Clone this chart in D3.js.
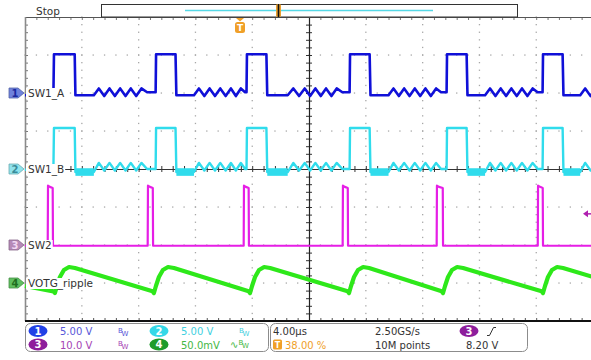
<!DOCTYPE html>
<html>
<head>
<meta charset="utf-8">
<script src="https://cdn.jsdelivr.net/npm/d3@7"></script>
<style>
  body { margin: 0; background: #fff; }
  svg { display: block; font-family: 'DejaVu Sans', sans-serif; }
  .tk .domain { display: none; }
</style>
</head>
<body>
<div id="scope"></div>
<script>
// time in µs, levels in V (ch4 in mV)
const timeSpan = [0, 40];          // 10 div x 4.00 µs
const divRange = [4, -4];          // 8 vertical divisions

const sw1a = [
  [0, -0.3], [2.0, -0.3], [2.04, 5.1], [3.5, 5.1], [3.55, -0.3],
  [4.85, -0.3], [5.2, 0.6], [5.58, -0.4], [5.95, 0.6], [6.33, -0.4], [6.7, 0.6], [7.08, -0.4], [7.45, 0.6], [7.83, -0.4], [8.2, 0.6], [8.6, 0.1], [9.2, 0.1],
  [9.23, 5.1], [10.6, 5.1], [10.66, -0.3],
  [11.9, -0.3], [12.25, 0.6], [12.63, -0.4], [13.0, 0.6], [13.38, -0.4], [13.75, 0.6], [14.13, -0.4], [14.5, 0.6], [14.85, -0.4], [15.2, 0.6], [15.5, 0.1], [15.6, 0.1],
  [15.63, 5.1], [17.0, 5.1], [17.06, -0.3],
  [18.5, -0.3], [18.9, 0.6], [19.3, -0.4], [19.7, 0.6], [20.08, -0.4], [20.45, 0.6], [20.83, -0.4], [21.2, 0.6], [21.58, -0.4], [21.95, 0.6], [22.35, 0.1], [22.86, 0.1],
  [22.89, 5.1], [24.27, 5.1], [24.33, -0.3],
  [25.6, -0.3], [25.95, 0.6], [26.33, -0.4], [26.7, 0.6], [27.08, -0.4], [27.45, 0.6], [27.83, -0.4], [28.2, 0.6], [28.58, -0.4], [28.95, 0.6], [29.3, 0.1], [29.69, 0.1],
  [29.72, 5.1], [31.1, 5.1], [31.16, -0.3],
  [32.4, -0.3], [32.75, 0.6], [33.13, -0.4], [33.5, 0.6], [33.88, -0.4], [34.25, 0.6], [34.63, -0.4], [35.0, 0.6], [35.38, -0.4], [35.75, 0.6], [36.1, 0.1], [36.45, 0.1],
  [36.48, 5.1], [37.86, 5.1], [37.92, -0.3],
  [39.1, -0.3], [39.45, 0.6], [39.83, -0.4], [40, 0.1]
];

const sw1b = [
  [0, -0.1], [2.0, -0.1], [2.04, 5.4], [3.5, 5.4], [3.55, -0.4],
  [4.85, -0.4], [5.2, 0.8], [5.58, -0.2], [5.95, 0.8], [6.33, -0.2], [6.7, 0.8], [7.08, -0.2], [7.45, 0.8], [7.83, -0.2], [8.2, 0.8], [8.6, 0.0], [9.2, 0.0],
  [9.23, 5.4], [10.6, 5.4], [10.66, -0.4],
  [11.9, -0.4], [12.25, 0.8], [12.63, -0.2], [13.0, 0.8], [13.38, -0.2], [13.75, 0.8], [14.13, -0.2], [14.5, 0.8], [14.85, -0.2], [15.2, 0.8], [15.5, 0.0], [15.6, 0.0],
  [15.63, 5.4], [17.0, 5.4], [17.06, -0.4],
  [18.5, -0.4], [18.9, 0.8], [19.3, -0.2], [19.7, 0.8], [20.08, -0.2], [20.45, 0.8], [20.83, -0.2], [21.2, 0.8], [21.58, -0.2], [21.95, 0.8], [22.35, 0.0], [22.86, 0.0],
  [22.89, 5.4], [24.27, 5.4], [24.33, -0.4],
  [25.6, -0.4], [25.95, 0.8], [26.33, -0.2], [26.7, 0.8], [27.08, -0.2], [27.45, 0.8], [27.83, -0.2], [28.2, 0.8], [28.58, -0.2], [28.95, 0.8], [29.3, 0.0], [29.69, 0.0],
  [29.72, 5.4], [31.1, 5.4], [31.16, -0.4],
  [32.4, -0.4], [32.75, 0.8], [33.13, -0.2], [33.5, 0.8], [33.88, -0.2], [34.25, 0.8], [34.63, -0.2], [35.0, 0.8], [35.38, -0.2], [35.75, 0.8], [36.1, 0.0], [36.45, 0.0],
  [36.48, 5.4], [37.86, 5.4], [37.92, -0.4],
  [39.1, -0.4], [39.45, 0.8], [39.83, -0.2], [40, 0.0]
];
// ringing band right after each SW1_B falling edge: [t0, t1, vmin, vmax]
const sw1bRinging = [
  [3.55, 4.85, -0.9, 0.1], [10.66, 11.9, -0.9, 0.1], [17.06, 18.5, -0.9, 0.1],
  [24.33, 25.6, -0.9, 0.1], [31.16, 32.4, -0.9, 0.1], [37.92, 39.1, -0.9, 0.1]
];

const sw2 = [
  [0, -0.2], [1.6, -0.2], [1.62, 15.6], [1.75, 15.3], [1.95, 15.0], [1.97, -0.2],
  [8.64, -0.2], [8.66, 15.6], [8.8, 15.3], [9.0, 15.0], [9.02, -0.2],
  [15.40, -0.2], [15.42, 15.6], [15.55, 15.3], [15.75, 15.0], [15.77, -0.2],
  [22.37, -0.2], [22.39, 15.6], [22.52, 15.3], [22.73, 15.0], [22.75, -0.2],
  [28.99, -0.2], [29.01, 15.6], [29.15, 15.3], [29.42, 15.0], [29.44, -0.2],
  [36.11, -0.2], [36.13, 15.6], [36.27, 15.3], [36.46, 15.0], [36.48, -0.2], [40, -0.2]
];

const votg = [
  [0, -4], [2.0, -11], [2.11, -13.2], [2.25, -3.9], [2.46, 7.9], [2.74, 17.1], [3.1, 21], [3.52, 19.7],
  [8.98, -11], [9.08, -13.2], [9.22, -3.9], [9.43, 7.9], [9.71, 17.1], [10.07, 21], [10.49, 19.7],
  [15.75, -11], [15.85, -13.2], [15.99, -3.9], [16.2, 7.9], [16.48, 17.1], [16.84, 21], [17.26, 19.7],
  [22.72, -11], [22.82, -13.2], [22.96, -3.9], [23.17, 7.9], [23.45, 17.1], [23.81, 21], [24.23, 19.7],
  [29.34, -11], [29.44, -13.2], [29.58, -3.9], [29.79, 7.9], [30.07, 17.1], [30.43, 21], [30.85, 19.7],
  [36.38, -11], [36.48, -13.2], [36.62, -3.9], [36.83, 7.9], [37.11, 17.1], [37.47, 21], [37.89, 19.7],
  [40, 8]
];

// channel setup: ground position (div), scale per div
const channels = [
  { id: 1, name: 'SW1_A', data: sw1a, pos: 2, perDiv: 5, color: '#1010d8', width: 2.6, mark: '#6f82dc', markText: '#1b2aa0' },
  { id: 2, name: 'SW1_B', data: sw1b, pos: 0, perDiv: 5, color: '#30dcec', width: 2.4, mark: '#8fe3ec', markText: '#3a8c9a' },
  { id: 3, name: 'SW2', data: sw2, pos: -2, perDiv: 10, color: '#e61ee6', width: 2.2, mark: '#b68ab8', markText: '#f2d8f2' },
  { id: 4, name: 'VOTG_ripple', data: votg, pos: -3, perDiv: 50, color: '#2ee81a', width: 4.2, mark: '#5fbf5f', markText: '#1e6e1e' }
];

const scaleRows = [
  [{ n: '1', fill: '#2141e6', val: '5.00 V', col: '#5757d8', bw: '' }, { n: '2', fill: '#34d8e8', val: '5.00 V', col: '#3fd0e0', bw: '' }],
  [{ n: '3', fill: '#8e1e9c', val: '10.0 V', col: '#a544b4', bw: '' }, { n: '4', fill: '#1f9c2c', val: '50.0mV', col: '#45b845', bw: '\u223F' }]
];
const timeInfo = ['4.00\u00B5s', '38.00 %'];
const acqInfo = ['2.50GS/s', '10M points'];
const trigLevel = '8.20 V';
const trigLevelV = 8.2;

const W = 591, H = 360;
const plot = { left: 25, top: 17, right: 593, bottom: 321 };

const svg = d3.select('#scope').append('svg')
  .attr('width', W)
  .attr('height', H);

svg.append('rect').attr('width', W).attr('height', H).attr('fill', '#fff');

const x = d3.scaleLinear().domain(timeSpan).range([plot.left, plot.right]);
const yDiv = d3.scaleLinear().domain(divRange).range([plot.top, plot.bottom]);

const majorT = d3.range(0, 41, 4);
const minorT = d3.range(0, 40.01, 0.8);
const majorD = d3.range(-4, 5, 1);
const minorD = d3.range(-4, 4.01, 0.2);

// graticule dots
const grid = svg.append('g').attr('fill', '#a8a8a8');
majorT.filter(t => t > 0 && t !== 20).forEach(t => {
  grid.selectAll(null).data(minorD).enter().append('rect')
    .attr('x', x(t) - 0.6).attr('y', d => yDiv(d) - 0.6)
    .attr('width', 1.3).attr('height', 1.3);
});
majorD.filter(d => d > -4 && d < 4 && d !== 0).forEach(d => {
  grid.selectAll(null).data(minorT).enter().append('rect')
    .attr('x', t => x(t) - 0.6).attr('y', yDiv(d) - 0.6)
    .attr('width', 1.3).attr('height', 1.3);
});

// borders with ticks
const tk = svg.append('g').attr('class', 'tk');
tk.append('g').attr('transform', `translate(0,${plot.top})`)
  .call(d3.axisBottom(x).tickValues(minorT).tickSize(3).tickFormat(''))
  .selectAll('line').attr('stroke', '#777');
tk.append('g').attr('transform', `translate(${plot.left},0)`)
  .call(d3.axisRight(yDiv).tickValues(minorD).tickSize(3).tickFormat(''))
  .selectAll('line').attr('stroke', '#777');
tk.append('g').attr('transform', `translate(0,${plot.bottom})`)
  .call(d3.axisTop(x).tickValues(minorT).tickSize(3).tickFormat(''))
  .selectAll('line').attr('stroke', '#555');

// centre cross
[d3.axisTop, d3.axisBottom].forEach(a => {
  tk.append('g').attr('transform', `translate(0,${yDiv(0)})`)
    .call(a(x).tickValues(minorT).tickSize(3).tickFormat(''))
    .selectAll('line').attr('stroke', '#333');
});
[d3.axisLeft, d3.axisRight].forEach(a => {
  tk.append('g').attr('transform', `translate(${x(20)},0)`)
    .call(a(yDiv).tickValues(minorD).tickSize(3).tickFormat(''))
    .selectAll('line').attr('stroke', '#333');
});

svg.append('line').attr('x1', plot.left).attr('x2', W).attr('y1', yDiv(0) + 0.5).attr('y2', yDiv(0) + 0.5)
  .attr('stroke', '#333').attr('stroke-width', 1);
svg.append('line').attr('x1', x(20) + 0.5).attr('x2', x(20) + 0.5).attr('y1', plot.top).attr('y2', plot.bottom)
  .attr('stroke', '#222').attr('stroke-width', 1.2);
svg.append('line').attr('x1', plot.left).attr('x2', W).attr('y1', plot.top + 0.5).attr('y2', plot.top + 0.5)
  .attr('stroke', '#555');
svg.append('line').attr('x1', plot.left + 0.5).attr('x2', plot.left + 0.5).attr('y1', plot.top).attr('y2', plot.bottom)
  .attr('stroke', '#8a8a8a').attr('stroke-width', 1.6);

// traces
const traces = svg.append('g');
channels.slice().reverse().forEach(ch => {
  const yv = v => yDiv(ch.pos + v / ch.perDiv);
  if (ch.id === 2) {
    traces.selectAll(null).data(sw1bRinging).enter().append('rect')
      .attr('x', d => x(d[0])).attr('width', d => x(d[1]) - x(d[0]))
      .attr('y', d => yv(d[3])).attr('height', d => yv(d[2]) - yv(d[3]))
      .attr('fill', ch.color);
  }
  traces.append('path')
    .datum(ch.data)
    .attr('fill', 'none')
    .attr('stroke', ch.color)
    .attr('stroke-width', ch.width)
    .attr('stroke-linejoin', 'round')
    .attr('d', d3.line().x(d => x(d[0])).y(d => yv(d[1])));
});

svg.append('line').attr('x1', plot.left).attr('x2', W).attr('y1', plot.bottom).attr('y2', plot.bottom)
  .attr('stroke', '#111').attr('stroke-width', 2);

// channel labels and ground markers
const labels = svg.append('g');
channels.forEach(ch => {
  const gy = yDiv(ch.pos);
  const bg = labels.append('rect').attr('fill', '#fff');
  const lbl = labels.append('text').attr('x', 28).attr('y', gy + 4)
    .attr('font-size', 10.5).attr('fill', '#333').text(ch.name);
  const bb = lbl.node().getBBox();
  bg.attr('x', 26).attr('y', bb.y + 1).attr('width', bb.width + 3).attr('height', bb.height - 2);
  labels.append('path')
    .attr('d', `M9,${gy - 5} h9 l6,5 l-6,5 h-9 z`)
    .attr('fill', ch.mark).attr('stroke', d3.color(ch.mark).darker(0.8)).attr('stroke-width', 0.8);
  labels.append('text').attr('x', 15).attr('y', gy + 4).attr('text-anchor', 'middle')
    .attr('font-size', 10).attr('font-weight', 'bold').attr('fill', ch.markText).text(ch.id);
});

// ch3 trigger level marker at the right
const ty = yDiv(channels[2].pos + trigLevelV / channels[2].perDiv);
svg.append('path').attr('d', `M583,${ty} l5,-3.5 v7 z`).attr('fill', '#b020b0');
svg.append('line').attr('x1', 586).attr('x2', 591).attr('y1', ty).attr('y2', ty).attr('stroke', '#b020b0').attr('stroke-width', 1.5);

// top status bar
svg.append('text').attr('x', 36).attr('y', 15).attr('font-size', 10.5).attr('fill', '#333').text('Stop');
svg.append('rect').attr('x', 101.5).attr('y', 4.5).attr('width', 416).attr('height', 12.5)
  .attr('fill', '#fff').attr('stroke', '#333');
svg.append('line').attr('x1', 185).attr('x2', 433).attr('y1', 10.5).attr('y2', 10.5)
  .attr('stroke', '#55d8e6').attr('stroke-width', 1.3);
svg.append('rect').attr('x', 276).attr('y', 4).attr('width', 5).attr('height', 13).attr('rx', 1.5).attr('fill', '#e8a030');
svg.append('line').attr('x1', 278.5).attr('x2', 278.5).attr('y1', 4).attr('y2', 17).attr('stroke', '#111').attr('stroke-width', 1.6);

// trigger position marker
const tx = 240;
svg.append('path').attr('d', `M${tx - 4},18 h8 l-4,3.5 z`).attr('fill', '#f0a028');
svg.append('rect').attr('x', tx - 5).attr('y', 22).attr('width', 10).attr('height', 11).attr('rx', 2.5).attr('fill', '#f0a028');
svg.append('text').attr('x', tx).attr('y', 31).attr('text-anchor', 'middle').attr('font-size', 9)
  .attr('font-weight', 'bold').attr('fill', '#fff').text('T');

// bottom info boxes
const info = svg.append('g').attr('font-size', 10);
info.append('rect').attr('x', 25.5).attr('y', 323.5).attr('width', 243).attr('height', 28).attr('rx', 5)
  .attr('fill', '#fff').attr('stroke', '#8c8c8c');
info.append('rect').attr('x', 270.5).attr('y', 323.5).attr('width', 257).attr('height', 28).attr('rx', 5)
  .attr('fill', '#fff').attr('stroke', '#8c8c8c');

scaleRows.forEach((row, ri) => {
  const by = 331 + ri * 13.5;
  row.forEach((c, ci) => {
    const bx = 38 + ci * 121;
    info.append('ellipse').attr('cx', bx).attr('cy', by).attr('rx', 9.5).attr('ry', 6).attr('fill', c.fill);
    info.append('text').attr('x', bx).attr('y', by + 3.8).attr('text-anchor', 'middle')
      .attr('fill', '#fff').attr('font-weight', 'bold').text(c.n);
    info.append('text').attr('x', bx + 22).attr('y', by + 4).attr('fill', c.col).text(c.val);
    const bw = info.append('text').attr('x', bx + 80 - (c.bw ? 9 : 0)).attr('y', by + 3).attr('fill', c.col).attr('font-size', 7);
    if (c.bw) bw.append('tspan').attr('font-size', 10).attr('dy', 0.5).text(c.bw);
    bw.append('tspan').attr('dy', c.bw ? -3 : -1.5).text('B');
    bw.append('tspan').attr('dy', 3).attr('dx', -1).text('W');
  });
});

info.append('text').attr('x', 273).attr('y', 335).attr('fill', '#333').text(timeInfo[0]);
info.append('rect').attr('x', 273).attr('y', 339.5).attr('width', 9).attr('height', 10).attr('rx', 1.5).attr('fill', '#f0a028');
info.append('text').attr('x', 277.5).attr('y', 347.5).attr('text-anchor', 'middle').attr('font-size', 8)
  .attr('font-weight', 'bold').attr('fill', '#fff').text('T');
info.append('text').attr('x', 285).attr('y', 348.5).attr('fill', '#f0a028').text(timeInfo[1]);
info.append('text').attr('x', 375).attr('y', 335).attr('fill', '#333').text(acqInfo[0]);
info.append('text').attr('x', 375).attr('y', 348.5).attr('fill', '#333').text(acqInfo[1]);
info.append('ellipse').attr('cx', 469).attr('cy', 331).attr('rx', 9.5).attr('ry', 6).attr('fill', '#8e1e9c');
info.append('text').attr('x', 469).attr('y', 334.8).attr('text-anchor', 'middle').attr('fill', '#fff')
  .attr('font-weight', 'bold').text('3');
info.append('path').attr('d', 'M487,335.5 h2.5 l4,-8 h2.5').attr('fill', 'none').attr('stroke', '#333').attr('stroke-width', 1);
info.append('text').attr('x', 466).attr('y', 348.5).attr('fill', '#333').text(trigLevel);
</script>
</body>
</html>
